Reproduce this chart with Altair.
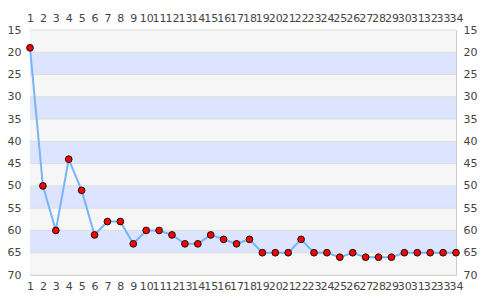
import altair as alt
import pandas as pd

rounds = list(range(1, 35))
positions = [19, 50, 60, 44, 51, 61, 58, 58, 63, 60, 60, 61, 63, 63, 61, 62, 63, 62,
             65, 65, 65, 62, 65, 65, 66, 65, 66, 66, 66, 65, 65, 65, 65, 65]
band_start = [15, 20, 25, 30, 35, 40, 45, 50, 55, 60, 65]
band_kind = ["a", "b", "a", "b", "a", "b", "a", "b", "a", "b", "a"]
y_ticks = [15, 20, 25, 30, 35, 40, 45, 50, 55, 60, 65, 70]

df = pd.DataFrame({"round": rounds, "pos": positions})
bands = pd.DataFrame({"y": band_start, "y2": [b + 5 for b in band_start], "kind": band_kind})
grid = pd.DataFrame({"y": y_ticks})

xscale = alt.Scale(domain=[1, 34], nice=False, zero=False)
yscale = alt.Scale(domain=[15, 70], reverse=True, nice=False, zero=False)

lab = dict(labelFont="DejaVu Sans", labelFontSize=11, labelColor="#444",
           ticks=False, domain=False, grid=False, title=None)

band_layer = alt.Chart(bands).mark_rect().encode(
    y=alt.Y("y:Q", scale=yscale, axis=alt.Axis(orient="left", values=y_ticks, labelPadding=9, **lab)),
    y2="y2:Q",
    x=alt.value(0), x2=alt.value(426),
    color=alt.Color("kind:N", scale=alt.Scale(domain=["a", "b"], range=["#f6f6f6", "#dde4ff"]), legend=None),
)

grid_layer = alt.Chart(grid).mark_rule(color="#dddddd", strokeWidth=1).encode(
    y=alt.Y("y:Q", scale=yscale, axis=alt.Axis(orient="right", values=y_ticks, labelPadding=7, **lab)),
    x=alt.value(0), x2=alt.value(426),
)

line_layer = alt.Chart(df).mark_line(color="#78b4f8", strokeWidth=2).encode(
    x=alt.X("round:Q", scale=xscale, axis=alt.Axis(orient="bottom", values=rounds, labelPadding=5,
                                                    labelOverlap=False, labelFlush=False, **lab)),
    y=alt.Y("pos:Q", scale=yscale, axis=None),
)

point_layer = alt.Chart(df).mark_point(filled=True, fill="#ff0000", stroke="#111111",
                                       strokeWidth=1, size=45, opacity=1).encode(
    x=alt.X("round:Q", scale=xscale, axis=alt.Axis(orient="top", values=rounds, labelPadding=7,
                                                    labelOverlap=False, labelFlush=False, **lab)),
    y=alt.Y("pos:Q", scale=yscale, axis=None),
)

chart = alt.layer(band_layer, grid_layer, line_layer, point_layer).resolve_axis(
    x="independent", y="independent"
).properties(
    width=426, height=245,
    autosize=alt.AutoSizeParams(type="none"),
    padding={"left": 30, "top": 30, "right": 29, "bottom": 25},
    background="#ffffff",
).configure_view(stroke="#cccccc", strokeWidth=1)

chart.save("out.html", embed_options={"renderer": "svg", "actions": False})
